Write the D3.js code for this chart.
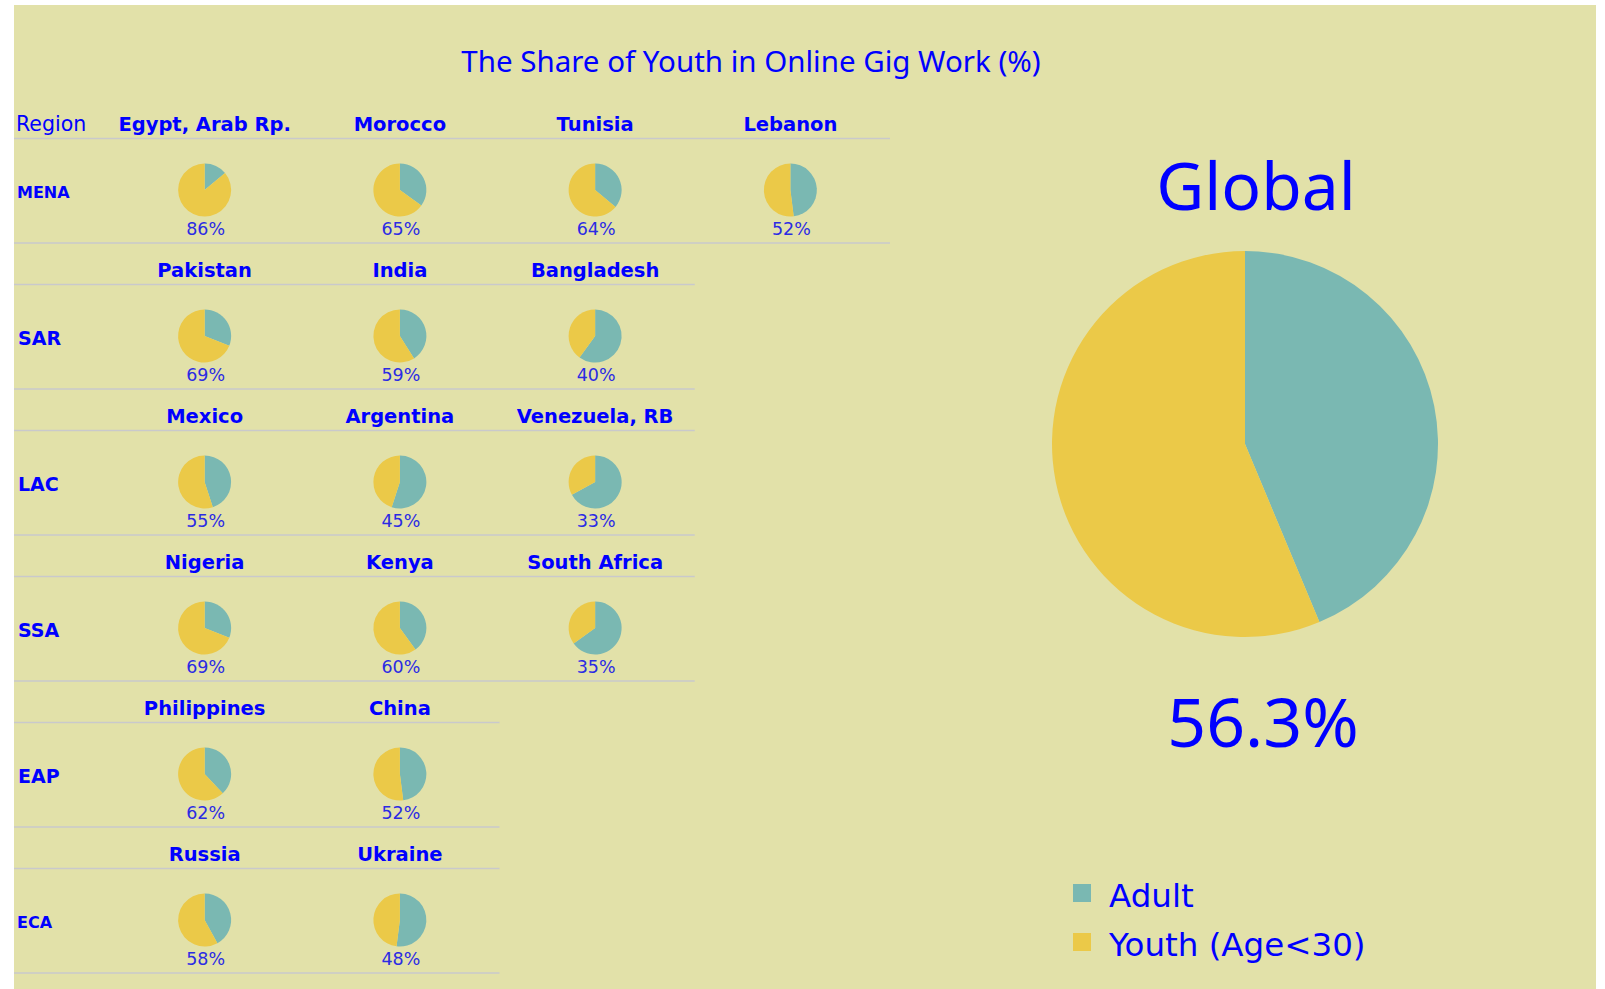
<!DOCTYPE html>
<html>
<head>
<meta charset="utf-8">
<title>The Share of Youth in Online Gig Work (%)</title>
<script src="https://cdn.jsdelivr.net/npm/d3@7"></script>
<style>
  body { margin: 0; background: #fff; }
  svg { display: block; }
</style>
</head>
<body>
<div id="plot"></div>
<script>
const title = 'The Share of Youth in Online Gig Work (%)';
const region_header = 'Region';
const regions = ['MENA','SAR','LAC','SSA','EAP','ECA'];
const countries = [
  ['Egypt, Arab Rp.','Morocco','Tunisia','Lebanon'],
  ['Pakistan','India','Bangladesh'],
  ['Mexico','Argentina','Venezuela, RB'],
  ['Nigeria','Kenya','South Africa'],
  ['Philippines','China'],
  ['Russia','Ukraine']
];
// youth share in %, adult is the rest
const youth_share = [
  [86,65,64,52],
  [69,59,40],
  [55,45,33],
  [69,60,35],
  [62,52],
  [58,48]
];
const global_label = 'Global';
const global_youth = 56.3;
const groups = ['Adult','Youth (Age<30)'];

const width = 1605, height = 989;
const blue = '#0000ff', blue_pct = '#2b2be3', grid = '#c9c9cc';

const color = d3.scaleOrdinal().domain(groups).range(['#7ab8b2','#ebc948']);
const pie = d3.pie().sort(null).value(d => d.v);
const split = s => [ { k: groups[0], v: 100 - s }, { k: groups[1], v: s } ];

const sy = d3.scaleBand().domain(regions).range([97, 973]);
const sx = d3.scaleBand().domain(d3.range(4)).range([107, 888]);

const svg = d3.select('#plot').append('svg')
  .attr('viewBox', [0,0,width,height])
  .attr('width', width).attr('height', height);

svg.append('rect')
  .attr('x', 14).attr('y', 5)
  .attr('width', 1582).attr('height', height - 5)
  .attr('fill', '#e2e1a9');

svg.append('text')
  .attr('x', 751).attr('y', 62).attr('dy', '0.35em')
  .attr('text-anchor', 'middle')
  .style('font-family', '"Noto Sans", sans-serif')
  .style('font-size', '29.5px')
  .attr('fill', blue)
  .text(title);

// small multiples =================================================
const grid_g = svg.append('g');

grid_g.append('text')
  .attr('x', 16).attr('y', sy(regions[0]) + 27).attr('dy', '0.35em')
  .style('font-family', '"DejaVu Sans", sans-serif')
  .style('font-size', '20.5px')
  .attr('fill', blue)
  .text(region_header);

const arc_small = d3.arc().innerRadius(0).outerRadius(26.5);

regions.forEach((r, i) => {
  const y0 = sy(r), names = countries[i], vals = youth_share[i];
  const x_end = sx(0) + sx.step() * names.length + 2;
  const g = grid_g.append('g');

  for (const ly of [y0 + 41.5, y0 + sy.step()])
    g.append('line')
      .attr('x1', 14).attr('x2', x_end)
      .attr('y1', ly).attr('y2', ly)
      .attr('stroke', grid).attr('stroke-width', 1.5);

  const small = r === 'MENA' || r === 'ECA';
  g.append('text')
    .attr('x', small ? 17 : 18).attr('y', y0 + 95).attr('dy', '0.35em')
    .style('font-family', '"DejaVu Sans", sans-serif')
    .style('font-weight', 'bold')
    .style('font-size', small ? '16px' : '19px')
    .attr('fill', blue)
    .text(r);

  const cx = j => sx(j) + sx.bandwidth() / 2;

  g.selectAll('text.country').data(names).join('text')
    .attr('class', 'country')
    .attr('x', (d, j) => cx(j)).attr('y', y0 + 27).attr('dy', '0.35em')
    .attr('text-anchor', 'middle')
    .style('font-family', '"DejaVu Sans", sans-serif')
    .style('font-weight', 'bold')
    .style('font-size', '19.5px')
    .attr('fill', blue)
    .text(d => d);

  g.selectAll('g.pie').data(vals).join('g')
    .attr('class', 'pie')
    .attr('transform', (d, j) => `translate(${cx(j)},${y0 + 93})`)
    .selectAll('path').data(d => pie(split(d))).join('path')
      .attr('d', arc_small)
      .attr('fill', d => color(d.data.k));

  g.selectAll('text.pct').data(vals).join('text')
    .attr('class', 'pct')
    .attr('x', (d, j) => cx(j) + 1).attr('y', y0 + 132).attr('dy', '0.35em')
    .attr('text-anchor', 'middle')
    .style('font-family', '"DejaVu Sans", sans-serif')
    .style('font-size', '17.5px')
    .attr('fill', blue_pct)
    .text(d => d + '%');
});

// global pie ======================================================
const gc = { x: 1245, y: 444, r: 193 };
const gg = svg.append('g');

gg.append('g')
  .attr('transform', `translate(${gc.x},${gc.y})`)
  .selectAll('path').data(pie(split(global_youth))).join('path')
    .attr('d', d3.arc().innerRadius(0).outerRadius(gc.r))
    .attr('fill', d => color(d.data.k));

gg.append('text')
  .attr('x', gc.x + 11).attr('y', 210)
  .attr('text-anchor', 'middle')
  .style('font-family', '"Noto Sans", sans-serif')
  .style('font-size', '66px')
  .attr('fill', blue)
  .text(global_label);

gg.append('text')
  .attr('x', gc.x + 18).attr('y', 747)
  .attr('text-anchor', 'middle')
  .style('font-family', '"Noto Sans", sans-serif')
  .style('font-size', '68px')
  .attr('fill', blue)
  .text(d3.format('.1f')(global_youth) + '%');

// legend ==========================================================
const lg = svg.append('g').attr('transform', 'translate(1073,884)');
const li = lg.selectAll('g').data(groups).join('g')
  .attr('transform', (d, i) => `translate(0,${i * 49})`);
li.append('rect')
  .attr('width', 18).attr('height', 18)
  .attr('fill', d => color(d));
li.append('text')
  .attr('x', 36).attr('y', 23)
  .style('font-family', '"DejaVu Sans", sans-serif')
  .style('font-size', '32.5px')
  .attr('fill', blue)
  .text(d => d);
</script>
</body>
</html>
